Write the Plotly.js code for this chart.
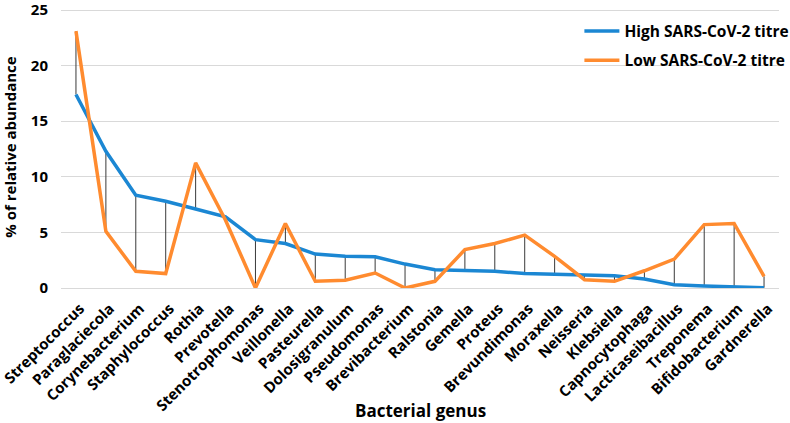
<!DOCTYPE html>
<html>
<head>
<meta charset="utf-8">
<script src="https://cdn.plot.ly/plotly-3.0.1.min.js"></script>
<style>
  html, body { margin: 0; padding: 0; background: #fff; }
  #chart { width: 790px; height: 423px; }
</style>
</head>
<body>
<div id="chart"></div>
<script>
// genus names along the x axis
const genera = ["Streptococcus", "Paraglaciecola", "Corynebacterium", "Staphylococcus",
  "Rothia", "Prevotella", "Stenotrophomonas", "Veillonella", "Pasteurella",
  "Dolosigranulum", "Pseudomonas", "Brevibacterium", "Ralstonia", "Gemella",
  "Proteus", "Brevundimonas", "Moraxella", "Neisseria", "Klebsiella",
  "Capnocytophaga", "Lacticaseibacillus", "Treponema", "Bifidobacterium", "Gardnerella"];

// % of relative abundance
const highTitre = [17.4, 12.3, 8.35, 7.8, 7.1, 6.4, 4.35, 4.0, 3.05, 2.85, 2.8, 2.15,
  1.65, 1.6, 1.5, 1.3, 1.22, 1.14, 1.1, 0.8, 0.3, 0.18, 0.08, 0.03];
const lowTitre = [23.1, 5.1, 1.5, 1.3, 11.25, 6.1, 0.0, 5.8, 0.6, 0.7, 1.35, 0.0,
  0.6, 3.45, 4.0, 4.75, 2.85, 0.75, 0.6, 1.55, 2.6, 5.7, 5.8, 1.05];

const baseFont = "'Open Sans', 'DejaVu Sans', sans-serif";

// high-low connector lines, one segment per genus
const dropX = [], dropY = [];
genera.forEach(function (g, i) {
  dropX.push(g, g, null);
  dropY.push(highTitre[i], lowTitre[i], null);
});

const data = [
  {
    x: dropX, y: dropY, type: "scatter", mode: "lines",
    line: { color: "#3a3a3a", width: 1 },
    showlegend: false, hoverinfo: "skip"
  },
  {
    x: genera, y: highTitre, type: "scatter", mode: "lines",
    name: "High SARS-CoV-2 titre", legendgroup: "high",
    line: { color: "#1b87d3", width: 3.5 }
  },
  {
    x: genera, y: lowTitre, type: "scatter", mode: "lines",
    name: "Low SARS-CoV-2 titre", legendgroup: "low",
    line: { color: "#ff8b2f", width: 3.5 }
  }
];

const layout = {
  width: 790, height: 423,
  margin: { l: 61, r: 11, t: 6, b: 135, autoexpand: false },
  paper_bgcolor: "#fff", plot_bgcolor: "#fff",
  font: { family: baseFont, color: "#000" },
  showlegend: true,
  legend: {
    x: 0.722, y: 0.97, xanchor: "left", yanchor: "top",
    font: { size: 15.5, family: baseFont, weight: "bold" },
    tracegroupgap: 6, itemwidth: 35, bgcolor: "rgba(0,0,0,0)"
  },
  xaxis: {
    type: "category", range: [-0.5, 23.5],
    tickangle: -45, showgrid: false, zeroline: false, showline: false,
    ticks: "", tickfont: { size: 15, family: baseFont, weight: "bold" },
    ticklabelstandoff: 8, ticklabelshift: 4
  },
  yaxis: {
    range: [0, 25.36], tickvals: [0, 5, 10, 15, 20, 25], showgrid: true,
    gridcolor: "#d9d9d9", gridwidth: 1, ticklabeloverflow: "allow",
    zeroline: true, zerolinecolor: "#d9d9d9", showline: false, ticks: "",
    tickfont: { size: 15, weight: "bold" }, ticklabelstandoff: 12,
    title: { text: "% of relative abundance", font: { size: 15, weight: "bold" }, standoff: 10 }
  },
  annotations: [{
    text: "Bacterial genus", xref: "paper", yref: "paper", x: 0.5, y: 0,
    xanchor: "center", yanchor: "middle", yshift: -122, showarrow: false,
    font: { size: 17, weight: "bold" }
  }]
};

Plotly.newPlot("chart", data, layout, { displayModeBar: false, staticPlot: true });
</script>
</body>
</html>
